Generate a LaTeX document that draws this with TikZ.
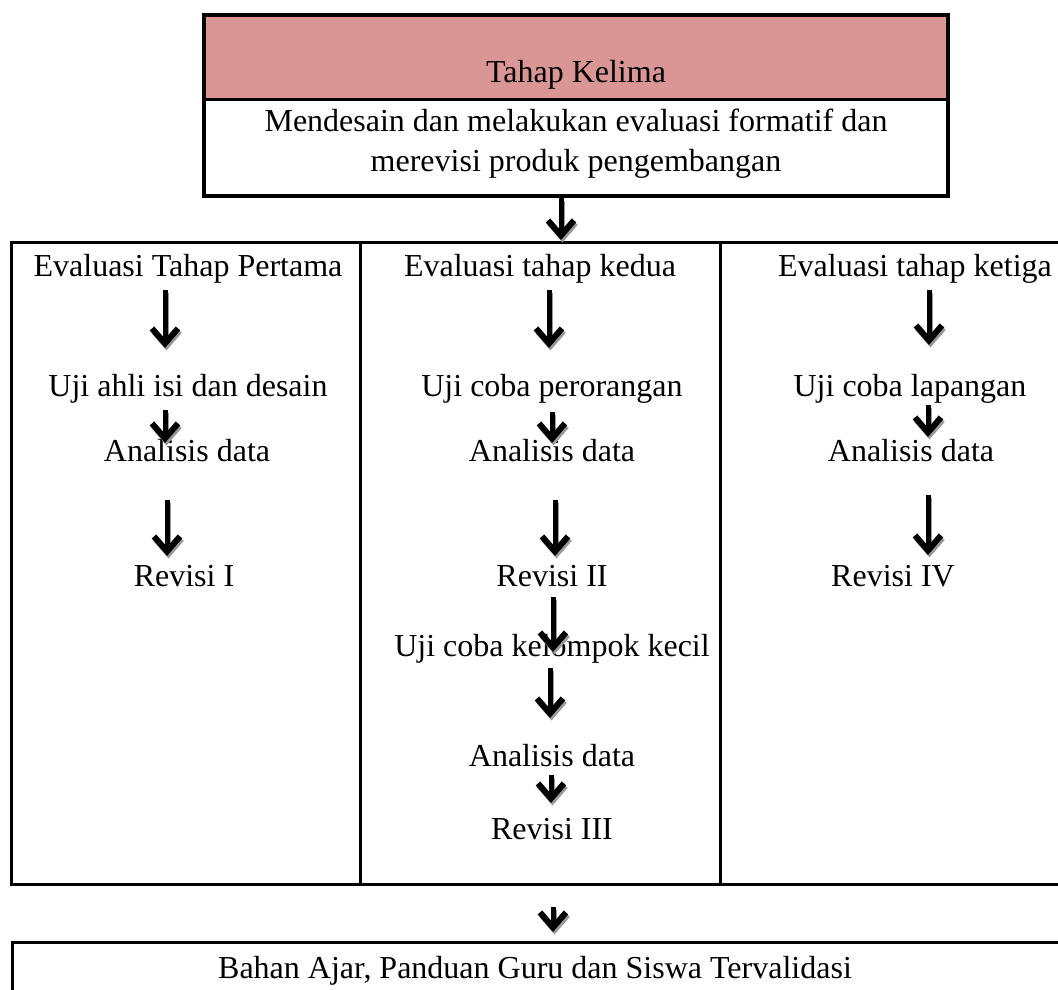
\documentclass[tikz,border=0pt]{standalone}
\usepackage{fontspec}
\setmainfont{Liberation Serif}
\usetikzlibrary{arrows.meta}
\definecolor{headpink}{HTML}{D99694}
\tikzset{
  lbl/.style={font=\fontsize{32}{40}\selectfont, inner sep=0pt, anchor=base},
  frame/.style={draw=black, line width=3pt},
  tip/.style={-{Straight Barb[length=15pt,width=26pt,line width=6pt]}},
  darrow/.style={line width=5pt, tip,
    preaction={draw=black!40, line width=5pt, tip,
      transform canvas={xshift=1.5pt,yshift=-2.5pt}}}
}
% vertical arrow: x, start y, end y
\newcommand\downarrowat[3]{%
  \coordinate (s) at (#1,#2);
  \coordinate (e) at (#1,#3);
  \draw[darrow] (s) -- (e);}
\begin{document}
\begin{tikzpicture}[x=1pt,y=-1pt]
\useasboundingbox (0,0) rectangle (1058,990);
\clip (0,0) rectangle (1058,990);

% header box
\fill[headpink] (204,15) rectangle (948,99);
\draw[line width=3.5pt] (204,15) rectangle (948,196);
\draw[line width=3pt] (204,99) -- (948,99);
\node[lbl] (head) at (576,83) {Tahap Kelima};
\node[lbl] (task1) at (576,131) {Mendesain dan melakukan evaluasi formatif dan};
\node[lbl] (task2) at (576,171) {merevisi produk pengembangan};

% three evaluation columns
\draw[frame] (11,242) rectangle (1070,884);
\draw[frame] (360,242) -- (360,884);
\draw[frame] (720,242) -- (720,884);

% result box
\draw[frame] (12,942) rectangle (1070,1010);
\node[lbl] (result) at (535,978) {Bahan Ajar, Panduan Guru dan Siswa Tervalidasi};

% column 1
\node[lbl] (a1) at (188,276) {Evaluasi Tahap Pertama};
\node[lbl] (a2) at (188,396) {Uji ahli isi dan desain};
\node[lbl] (a3) at (187,461) {Analisis data};
\node[lbl] (a4) at (184,586) {Revisi I};

% column 2
\node[lbl] (b1) at (540,276) {Evaluasi tahap kedua};
\node[lbl] (b2) at (552,396) {Uji coba perorangan};
\node[lbl] (b3) at (552,461) {Analisis data};
\node[lbl] (b4) at (552,586) {Revisi II};
\node[lbl] (b5) at (552,656) {Uji coba kelompok kecil};
\node[lbl] (b6) at (552,766) {Analisis data};
\node[lbl] (b7) at (552,839) {Revisi III};

% column 3
\node[lbl] (c1) at (915,276) {Evaluasi tahap ketiga};
\node[lbl] (c2) at (910,396) {Uji coba lapangan};
\node[lbl] (c3) at (911,461) {Analisis data};
\node[lbl] (c4) at (893,586) {Revisi IV};

% arrows
\downarrowat{561}{198}{240}
\downarrowat{165}{290}{348}
\downarrowat{165}{410}{443}
\downarrowat{167}{500}{556}
\downarrowat{549}{290}{348}
\downarrowat{552}{412}{443}
\downarrowat{555}{500}{556}
\downarrowat{553}{597}{652}
\downarrowat{550}{668}{718}
\downarrowat{551}{775}{803}
\downarrowat{929}{290}{345}
\downarrowat{928}{405}{437}
\downarrowat{928}{495}{555}
\downarrowat{553}{907}{932}
\end{tikzpicture}
\end{document}
